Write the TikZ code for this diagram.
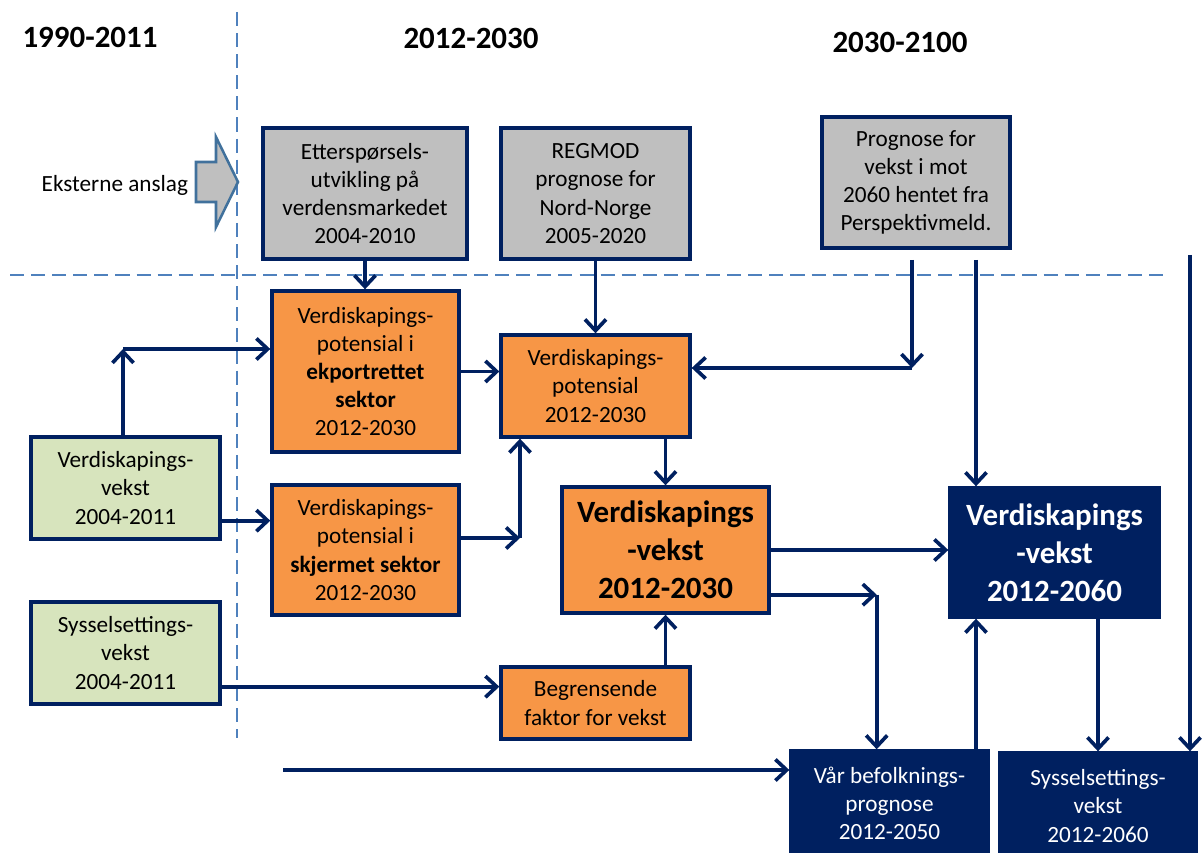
\documentclass[tikz,border=0pt]{standalone}
\usepackage{fontspec}
\setmainfont{Carlito}
\usetikzlibrary{arrows.meta,positioning,calc}
\definecolor{navy}{HTML}{002060}
\definecolor{orng}{HTML}{F79646}
\definecolor{gry}{HTML}{BFBFBF}
\definecolor{lgreen}{HTML}{D7E4BD}
\definecolor{dashblue}{HTML}{4F81BD}
\definecolor{arrowedge}{HTML}{41719C}
\newlength\unitpx
\setlength\unitpx{0.025cm}

\begin{document}
\begin{tikzpicture}[
  x=0.025cm, y=-0.025cm,
  font=\fontsize{16.5}{20}\selectfont,
  box/.style={draw=navy, line width=2.4pt, align=center, inner sep=0pt},
  sz/.style 2 args={minimum width=#1\unitpx, minimum height=#2\unitpx},
  graybox/.style={box, fill=gry},
  orangebox/.style={box, fill=orng},
  greenbox/.style={box, fill=lgreen},
  navybox/.style={box, fill=navy, text=white},
  bigtext/.style={font=\bfseries\fontsize{22}{27}\selectfont},
  period/.style={font=\bfseries\fontsize{22}{26}\selectfont},
  divider/.style={dashblue, line width=1.8pt, dash pattern=on 10pt off 5pt},
  arr/.style={-{Straight Barb[length=8pt,width=15pt]}, line width=2.6pt, navy}
]
\useasboundingbox (0,0) rectangle (1203,853);

\draw[divider] (237,12) -- (237,738);
\draw[divider] (10,275) -- (1166,275);

\node[period] (t1) at (90,37) {1990-2011};
\node[period] (t2) at (471,38) {2012-2030};
\node[period] (t3) at (900,42) {2030-2100};

\node[anchor=east] (ekst) at (193,185) {Eksterne anslag};
\draw[line width=1.8pt, draw=arrowedge, fill=gry] (196,162) -- (216,162) -- (216,137) -- (238,182) -- (216,227) -- (216,202) -- (196,202) -- cycle;

\node[graybox, sz={204}{131}] (ettersp) at (365,193.5) {Etterspørsels-\\utvikling på\\verdensmarkedet\\2004-2010};
\node[graybox, sz={189}{131}] (regmod) at (595.5,193.5) {REGMOD\\prognose for\\Nord-Norge\\2005-2020};
\node[graybox, sz={188}{131}] (persp) at (916,182.5) {Prognose for\\vekst i mot\\2060 hentet fra\\Perspektivmeld.};

\node[orangebox, sz={187}{161}] (eksport) at (365.5,371.5) {Verdiskapings-\\potensial i\\\textbf{ekportrettet}\\\textbf{sektor}\\2012-2030};
\node[orangebox, sz={187}{130}] (skjermet) at (365.5,550) {Verdiskapings-\\potensial i\\\textbf{skjermet sektor}\\2012-2030};
\node[orangebox, sz={189}{102}] (potensial) at (595.5,386) {Verdiskapings-\\potensial\\2012-2030};
\node[orangebox, sz={207}{126}, bigtext] (vekst) at (665.5,550) {Verdiskapings\\-vekst\\2012-2030};
\node[orangebox, sz={189}{72}] (begr) at (595.5,703) {Begrensende\\faktor for vekst};

\node[greenbox, sz={189}{102}] (vgreen) at (125.5,488) {Verdiskapings-\\vekst\\2004-2011};
\node[greenbox, sz={189}{102}] (sgreen) at (125.5,653) {Sysselsettings-\\vekst\\2004-2011};

\node[navybox, sz={209}{129}, bigtext] (vekst60) at (1054.5,552.5) {Verdiskapings\\-vekst\\2012-2060};
\node[navybox, sz={197}{104}] (befolk) at (889.5,803) {Vår befolknings-\\prognose\\2012-2050};
\node[navybox, sz={196}{106}] (syssel60) at (1098,806) {Sysselsettings-\\vekst\\2012-2060};

\coordinate (g1) at (123,349);
\coordinate (g2) at ($(vgreen.south east)+(0,-20)$);
\coordinate (g3) at ($(sgreen.south east)+(0,-19)$);
\coordinate (s1) at (520,538);
\coordinate (p1) at (912,260);
\coordinate (p1b) at (912,368);
\coordinate (p2) at (976,260);
\coordinate (p3) at (1190,255);
\coordinate (b1) at ($(vekst.south east)+(106,-20)$);
\coordinate (l1) at (283,770);

\draw[arr] (vgreen.north -| g1) -- (g1);
\draw[arr] (g1) -- (g1 -| eksport.west);
\draw[arr] (g2) -- (g2 -| skjermet.west);
\draw[arr] (ettersp.south) -- (ettersp.south |- eksport.north);
\draw[arr] (regmod.south) -- (potensial.north);
\draw[arr] (eksport.east) -- (eksport.east -| potensial.west);
\draw[arr] (skjermet.east |- s1) -- (s1);
\draw[arr] (s1) -- (s1 |- potensial.south);
\draw[arr] (p1) -- (p1b);
\draw[arr] (p1b) -- (p1b -| potensial.east);
\draw[arr] (p2) -- (p2 |- vekst60.north);
\draw[arr] (p3) -- (p3 |- syssel60.north);
\draw[arr] (vekst.north |- potensial.south) -- (vekst.north);
\draw[arr] (vekst.east) -- (vekst.east -| vekst60.west);
\draw[arr] (b1 -| vekst.east) -- (b1);
\draw[arr] (b1) -- (b1 |- befolk.north);
\draw[arr] (vekst.south |- begr.north) -- (vekst.south);
\draw[arr] (g3) -- (g3 -| begr.west);
\draw[arr] (l1) -- (l1 -| befolk.west);
\draw[arr] (befolk.north -| p2) -- (vekst60.south -| p2);
\draw[arr] (vekst60.south -| syssel60.north) -- (syssel60.north);
\end{tikzpicture}
\end{document}
